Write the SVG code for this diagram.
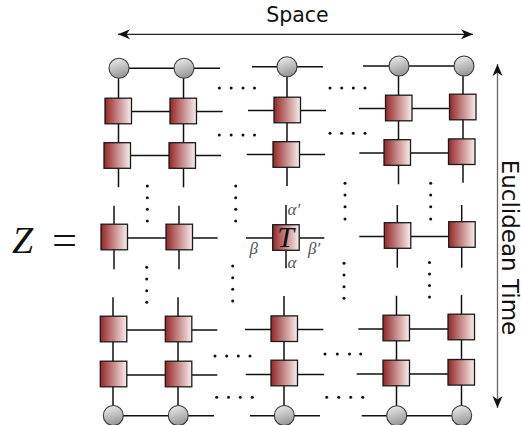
<svg xmlns="http://www.w3.org/2000/svg" width="521" height="425" viewBox="0 0 521 425">
<defs>
<linearGradient id="gs" x1="0" y1="0" x2="1" y2="0">
<stop offset="0" stop-color="#962626"/>
<stop offset="1" stop-color="#f8eeee"/>
</linearGradient>
<linearGradient id="gc" x1="0" y1="0" x2="0.3" y2="1">
<stop offset="0" stop-color="#f2f2f2"/>
<stop offset="1" stop-color="#9a9a9a"/>
</linearGradient>
<marker id="ah" viewBox="-13 -6 14 12" refX="0" refY="0" markerWidth="14" markerHeight="12" markerUnits="userSpaceOnUse" orient="auto-start-reverse">
<path d="M0,0 L-12,-5 L-8.5,0 L-12,5 z" fill="#111"/>
</marker>
<rect id="sq" x="-13" y="-12.8" width="26.5" height="25.6" fill="url(#gs)" stroke="#1a1a1a" stroke-width="1.3"/>
<circle id="ci" r="10" fill="url(#gc)" stroke="#3a3a3a" stroke-width="1.1"/>
</defs>
<style>
.e{stroke:#111;stroke-width:1.5;fill:none}
.d circle{fill:#111}
.lbl{font-family:"Liberation Serif",serif;font-style:italic;fill:#555}
</style>
<rect width="521" height="425" fill="#fff"/>

<g id="labels">
<text x="297.5" y="21.7" font-family="DejaVu Sans, sans-serif" font-size="20.5" text-anchor="middle" fill="#111">Space</text>
<text transform="translate(501.5,247.5) rotate(90)" font-family="DejaVu Sans, sans-serif" font-size="23" text-anchor="middle" fill="#111">Euclidean Time</text>
<text x="12" y="252.5" font-family="Liberation Serif, serif" font-style="italic" font-size="38" fill="#111">Z</text>
<text x="52" y="254" font-family="Liberation Serif, serif" font-size="42" textLength="25" lengthAdjust="spacingAndGlyphs" fill="#111">=</text>
</g>

<g id="arrows">
<line x1="118" y1="34.3" x2="473" y2="34.3" stroke="#222" stroke-width="1.2" marker-start="url(#ah)" marker-end="url(#ah)"/>
<line x1="497.5" y1="64" x2="497.5" y2="408" stroke="#666" stroke-width="1.3" marker-start="url(#ah)" marker-end="url(#ah)"/>
</g>

<g id="connectors" class="e">
<path d="M119,68.3H220 M252,66.8H323 M363,66H464"/>
<path d="M118,111.5H222.7 M248,110.5H326 M359,108.5H463"/>
<path d="M117,155.5H221 M246.7,154.5H325 M359.3,153H462"/>
<path d="M114,238H217.7 M246,238H324.3 M359.3,236.5H462"/>
<path d="M113,330H217.3 M245,329.5H323.3 M358.3,329H461"/>
<path d="M113,375H217.3 M245.7,374.5H324 M356.7,374H461"/>
<path d="M113,415.7H214 M250,415.7H320 M361.7,415.7H462"/>
<path d="M118.5,68V187.3 M183.5,68V187.3 M287,67V186 M398.5,66V184.3 M463,66V182.7"/>
<path d="M114,205.7V269.3 M179,205.7V269.3 M286,205V268.3 M397.3,205V267.7 M461.7,205V267.7"/>
<path d="M113,297.3V415 M178,297.3V415 M284,296V415 M396.5,295.7V415 M461.5,295V415"/>
</g>

<g id="dots" class="d">
<circle cx="219.3" cy="88" r="1.5"/><circle cx="231.2" cy="88" r="1.5"/><circle cx="243" cy="88" r="1.5"/><circle cx="254.5" cy="88" r="1.5"/>
<circle cx="330" cy="88" r="1.5"/><circle cx="341.7" cy="88" r="1.5"/><circle cx="353.3" cy="88" r="1.5"/><circle cx="365" cy="88" r="1.5"/>
<circle cx="219.3" cy="135" r="1.5"/><circle cx="231.2" cy="135" r="1.5"/><circle cx="243" cy="135" r="1.5"/><circle cx="254.5" cy="135" r="1.5"/>
<circle cx="330" cy="133.3" r="1.5"/><circle cx="341.7" cy="133.3" r="1.5"/><circle cx="353.3" cy="133.3" r="1.5"/><circle cx="365" cy="133.3" r="1.5"/>
<circle cx="215" cy="356" r="1.5"/><circle cx="226.7" cy="356" r="1.5"/><circle cx="238.3" cy="356" r="1.5"/><circle cx="250" cy="356" r="1.5"/>
<circle cx="325" cy="354" r="1.5"/><circle cx="337.3" cy="354" r="1.5"/><circle cx="349.5" cy="354" r="1.5"/><circle cx="360.7" cy="354" r="1.5"/>
<circle cx="216.7" cy="397.3" r="1.5"/><circle cx="228.5" cy="397.3" r="1.5"/><circle cx="240.3" cy="397.3" r="1.5"/><circle cx="252.3" cy="397.3" r="1.5"/>
<circle cx="326.7" cy="397.3" r="1.5"/><circle cx="338.7" cy="397.3" r="1.5"/><circle cx="350.7" cy="397.3" r="1.5"/><circle cx="362.7" cy="397.3" r="1.5"/>
<circle cx="147.3" cy="186" r="1.5"/><circle cx="147.3" cy="197.7" r="1.5"/><circle cx="147.3" cy="209.3" r="1.5"/><circle cx="147.3" cy="221" r="1.5"/>
<circle cx="235.7" cy="186" r="1.5"/><circle cx="235.7" cy="197.7" r="1.5"/><circle cx="235.7" cy="209.3" r="1.5"/><circle cx="235.7" cy="221" r="1.5"/>
<circle cx="345" cy="183.3" r="1.5"/><circle cx="345" cy="195" r="1.5"/><circle cx="345" cy="206.7" r="1.5"/><circle cx="345" cy="219" r="1.5"/>
<circle cx="430.7" cy="183.3" r="1.5"/><circle cx="430.7" cy="195" r="1.5"/><circle cx="430.7" cy="206.7" r="1.5"/><circle cx="430.7" cy="219" r="1.5"/>
<circle cx="146.7" cy="267.3" r="1.5"/><circle cx="146.7" cy="279" r="1.5"/><circle cx="146.7" cy="290.7" r="1.5"/><circle cx="146.7" cy="302.3" r="1.5"/>
<circle cx="232.7" cy="266" r="1.5"/><circle cx="232.7" cy="277.7" r="1.5"/><circle cx="232.7" cy="289.3" r="1.5"/><circle cx="232.7" cy="301" r="1.5"/>
<circle cx="344" cy="263.3" r="1.5"/><circle cx="344" cy="275" r="1.5"/><circle cx="344" cy="286.7" r="1.5"/><circle cx="344" cy="298.3" r="1.5"/>
<circle cx="429.5" cy="262.5" r="1.5"/><circle cx="429.5" cy="274" r="1.5"/><circle cx="429.5" cy="285.5" r="1.5"/><circle cx="429.5" cy="297" r="1.5"/>
</g>

<g id="top-circles">
<g id="c0-1"><use href="#ci" x="119" y="68.3"/></g>
<g id="c0-2"><use href="#ci" x="184" y="68.3"/></g>
<g id="c0-3"><use href="#ci" x="287" y="66.8"/></g>
<g id="c0-4"><use href="#ci" x="399" y="66"/></g>
<g id="c0-5"><use href="#ci" x="464" y="66"/></g>
</g>
<g id="row1">
<g id="t1-1"><use href="#sq" x="118" y="111"/></g>
<g id="t1-2"><use href="#sq" x="183" y="111"/></g>
<g id="t1-3"><use href="#sq" x="287" y="110"/></g>
<g id="t1-4"><use href="#sq" x="398.5" y="108"/></g>
<g id="t1-5"><use href="#sq" x="462.5" y="107"/></g>
</g>
<g id="row2">
<g id="t2-1"><use href="#sq" x="117" y="155.5"/></g>
<g id="t2-2"><use href="#sq" x="182" y="155.5"/></g>
<g id="t2-3"><use href="#sq" x="286" y="154.5"/></g>
<g id="t2-4"><use href="#sq" x="397" y="152.5"/></g>
<g id="t2-5"><use href="#sq" x="461.5" y="151.7"/></g>
</g>
<g id="row3">
<g id="t3-1"><use href="#sq" x="114" y="237"/></g>
<g id="t3-2"><use href="#sq" x="179" y="237"/></g>
<g id="T"><use href="#sq" x="285.7" y="237.5"/>
<text x="285.5" y="247" font-family="Liberation Serif, serif" font-style="italic" font-size="30" text-anchor="middle" fill="#111">T</text>
<text class="lbl" x="287.5" y="215" font-size="17">α′</text>
<text class="lbl" x="249.5" y="254" font-size="17">β</text>
<text class="lbl" x="308" y="254" font-size="17">β′</text>
<text class="lbl" x="287.5" y="268" font-size="17">α</text>
</g>
<g id="t3-4"><use href="#sq" x="397.3" y="235.5"/></g>
<g id="t3-5"><use href="#sq" x="461.7" y="234.5"/></g>
</g>
<g id="row4">
<g id="t4-1"><use href="#sq" x="113.3" y="329"/></g>
<g id="t4-2"><use href="#sq" x="178.3" y="329"/></g>
<g id="t4-3"><use href="#sq" x="284" y="328.7"/></g>
<g id="t4-4"><use href="#sq" x="396" y="328"/></g>
<g id="t4-5"><use href="#sq" x="461" y="327"/></g>
</g>
<g id="row5">
<g id="t5-1"><use href="#sq" x="113.3" y="374"/></g>
<g id="t5-2"><use href="#sq" x="178.3" y="374"/></g>
<g id="t5-3"><use href="#sq" x="284" y="373"/></g>
<g id="t5-4"><use href="#sq" x="396" y="373"/></g>
<g id="t5-5"><use href="#sq" x="461" y="372.3"/></g>
</g>
<g id="bottom-circles">
<g id="c6-1"><use href="#ci" x="113.3" y="415.5"/></g>
<g id="c6-2"><use href="#ci" x="178.3" y="415.5"/></g>
<g id="c6-3"><use href="#ci" x="284.3" y="415.5"/></g>
<g id="c6-4"><use href="#ci" x="396.7" y="415.7"/></g>
<g id="c6-5"><use href="#ci" x="461.7" y="415.5"/></g>
</g>
</svg>
